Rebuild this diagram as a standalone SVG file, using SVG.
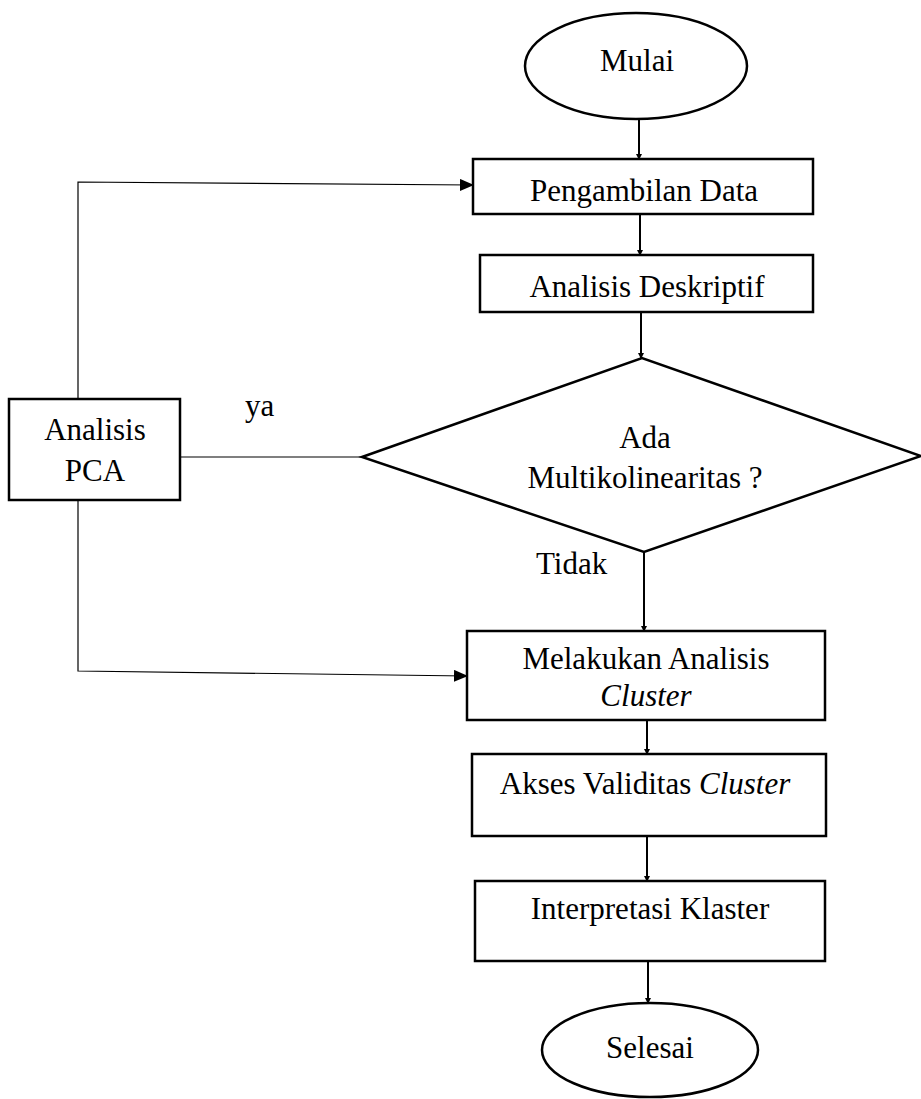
<svg xmlns="http://www.w3.org/2000/svg" width="921" height="1099" viewBox="0 0 921 1099">
<style>
.shape{fill:#fff;stroke:#000;stroke-width:2.5}
.t{font-family:"Liberation Serif","Times New Roman",serif;font-size:31px;fill:#000;text-anchor:middle}
.lbl{font-family:"Liberation Serif","Times New Roman",serif;font-size:31px;fill:#000}
.c{fill:none;stroke:#000;stroke-width:2}
.thin{fill:none;stroke:#000;stroke-width:1.2}
</style>
<defs>
<marker id="small" markerWidth="6" markerHeight="6" refX="5" refY="3" orient="auto" markerUnits="userSpaceOnUse">
<path d="M0,0 L6,3 L0,6 z" fill="#000"/>
</marker>
<marker id="big" markerWidth="14" markerHeight="12" refX="13" refY="6" orient="auto" markerUnits="userSpaceOnUse">
<path d="M0,0 L14,6 L0,12 z" fill="#000"/>
</marker>
</defs>
<g id="connectors">
<line class="c" x1="639" y1="118" x2="639" y2="159" marker-end="url(#small)"/>
<line class="c" x1="640" y1="210" x2="640" y2="255" marker-end="url(#small)"/>
<line class="c" x1="641" y1="312" x2="641" y2="358" marker-end="url(#small)"/>
<line class="c" x1="644" y1="552" x2="644" y2="631" marker-end="url(#small)"/>
<line class="c" x1="647" y1="718" x2="647" y2="754" marker-end="url(#small)"/>
<line class="c" x1="647" y1="836" x2="647" y2="881" marker-end="url(#small)"/>
<line class="c" x1="648" y1="952" x2="648" y2="1003" marker-end="url(#small)"/>
<polyline class="thin" points="78,399 78,182 473,185" marker-end="url(#big)"/>
<polyline class="thin" points="78,500 78,671 467,676" marker-end="url(#big)"/>
<line class="thin" x1="180" y1="457" x2="362" y2="457"/>
<text class="lbl" x="245" y="416">ya</text>
<text class="lbl" x="536" y="574">Tidak</text>
</g>
<g id="mulai">
<ellipse class="shape" cx="636" cy="66" rx="111" ry="53"/>
<text class="t" x="637" y="71">Mulai</text>
</g>
<g id="pengambilan">
<rect class="shape" x="473" y="159" width="340" height="55"/>
<text class="t" x="644" y="201">Pengambilan Data</text>
</g>
<g id="deskriptif">
<rect class="shape" x="480" y="255" width="333" height="57"/>
<text class="t" x="647" y="297">Analisis Deskriptif</text>
</g>
<g id="multikolinearitas">
<polygon class="shape" points="362,457 642,358 921,456 644,552"/>
<text class="t" x="645" y="448">Ada</text>
<text class="t" x="645" y="488">Multikolinearitas ?</text>
</g>
<g id="pca">
<rect class="shape" x="9" y="399" width="171" height="101"/>
<text class="t" x="95" y="440">Analisis</text>
<text class="t" x="95" y="481">PCA</text>
</g>
<g id="cluster">
<rect class="shape" x="467" y="631" width="358" height="89"/>
<text class="t" x="646" y="669">Melakukan Analisis</text>
<text class="t" x="646" y="706" font-style="italic">Cluster</text>
</g>
<g id="validitas">
<rect class="shape" x="472" y="754" width="354" height="82"/>
<text class="t" x="645" y="794">Akses Validitas <tspan font-style="italic">Cluster</tspan></text>
</g>
<g id="interpretasi">
<rect class="shape" x="475" y="881" width="350" height="80"/>
<text class="t" x="650" y="919">Interpretasi Klaster</text>
</g>
<g id="selesai">
<ellipse class="shape" cx="650" cy="1050" rx="108" ry="47"/>
<text class="t" x="650" y="1058">Selesai</text>
</g>
</svg>
